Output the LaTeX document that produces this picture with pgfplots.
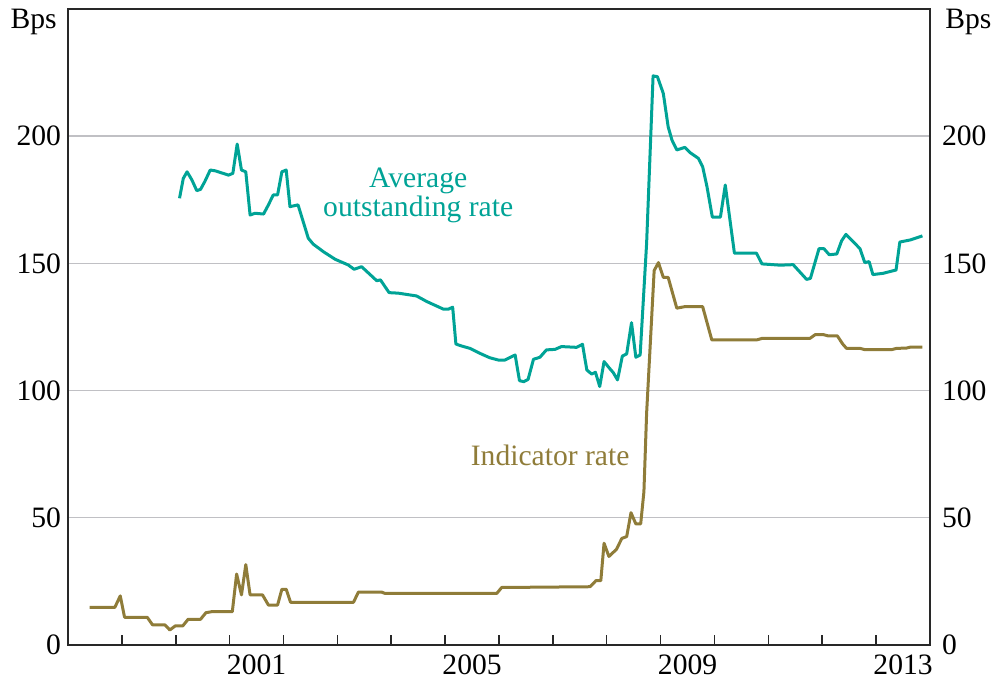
\documentclass[border=0pt]{standalone}
\usepackage{fontspec}
\setmainfont{Liberation Serif}
\usepackage{pgfplots}
\pgfplotsset{compat=1.18}
\definecolor{tealc}{RGB}{0,163,150}
\definecolor{goldc}{RGB}{143,124,57}
\definecolor{gridgray}{RGB}{192,192,196}
\definecolor{axdark}{RGB}{40,40,40}
\newcommand{\fs}{\fontsize{14.8}{14.5}\selectfont}
\begin{document}
\begin{tikzpicture}
\begin{axis}[
 at={(0,0)}, anchor=south west,
 width=431pt, height=318pt, scale only axis,
 xmin=1998, xmax=2014, ymin=0, ymax=250,
 axis line style={axdark, line width=0.9pt},
 xtick={1999,...,2013}, xticklabels={},
 xtick pos=bottom, tick align=inside,
 major tick length=5pt,
 x tick style={axdark, line width=0.8pt},
 extra x ticks={2001.5,2005.5,2009.5,2013.5},
 extra x tick labels={2001,2005,2009,2013},
 extra x tick style={major tick length=0pt, tick label style={yshift=-1.5pt}},
 ytick={0,50,...,200},
 ytick pos=left, y tick style={draw=none},
 ymajorgrids, grid style={gridgray, line width=0.7pt},
 tick label style={font=\fs},
 /pgf/number format/assume math mode=true,
 clip=false,
]
\addplot[tealc, line width=1.5pt, line join=round] coordinates {
(2000.07,175.6) (2000.14,183.4) (2000.21,186.0) (2000.30,182.8) (2000.39,178.6)
(2000.46,179.1) (2000.54,182.2) (2000.64,186.7) (2000.73,186.4) (2000.98,184.7)
(2001.06,185.4) (2001.14,196.9) (2001.22,186.7) (2001.30,186.0) (2001.38,169.0)
(2001.47,169.7) (2001.63,169.4) (2001.72,173.0) (2001.81,176.9) (2001.89,176.9)
(2001.97,186.0) (2002.05,186.7) (2002.12,172.3) (2002.27,173.0) (2002.46,159.9)
(2002.55,157.6) (2002.74,154.6) (2002.96,151.6) (2003.20,149.4) (2003.31,147.7)
(2003.45,148.7) (2003.73,143.2) (2003.80,143.5) (2003.96,138.5) (2004.13,138.3)
(2004.47,137.2) (2004.66,135.0) (2004.97,132.0) (2005.06,132.0) (2005.14,132.8)
(2005.20,118.3) (2005.31,117.5) (2005.46,116.6) (2005.65,114.6) (2005.83,112.9)
(2005.99,112.0) (2006.11,112.0) (2006.30,114.0) (2006.38,103.9) (2006.46,103.5)
(2006.54,104.4) (2006.64,112.3) (2006.76,113.1) (2006.88,116.0) (2007.04,116.2)
(2007.16,117.3) (2007.44,117.0) (2007.55,118.2) (2007.63,108.1) (2007.72,106.5)
(2007.79,107.2) (2007.87,101.6) (2007.95,111.4) (2008.05,108.8) (2008.12,107.1)
(2008.20,104.2) (2008.29,113.6) (2008.37,114.4) (2008.46,126.7) (2008.54,113.1)
(2008.62,114.0) (2008.74,157.9) (2008.86,223.7) (2008.94,223.4) (2009.05,216.8)
(2009.14,203.7) (2009.21,198.5) (2009.30,194.6) (2009.45,195.6) (2009.55,193.5)
(2009.70,191.3) (2009.78,188.0) (2009.86,180.2) (2009.96,168.2) (2010.11,168.2)
(2010.20,180.8) (2010.37,154.0) (2010.78,154.0) (2010.88,149.8) (2011.22,149.3)
(2011.46,149.5) (2011.71,143.7) (2011.78,144.1) (2011.94,155.8) (2012.03,155.8)
(2012.13,153.4) (2012.27,153.7) (2012.36,158.9) (2012.44,161.4) (2012.70,155.8)
(2012.79,150.3) (2012.87,150.7) (2012.94,145.6) (2013.13,146.1) (2013.37,147.4)
(2013.44,158.4) (2013.63,159.2) (2013.86,160.8)
};
\addplot[goldc, line width=1.5pt, line join=round] coordinates {
(1998.40,14.8) (1998.87,14.8) (1998.97,19.3) (1999.05,10.9) (1999.47,10.9)
(1999.57,7.9) (1999.80,7.9) (1999.89,5.9) (1999.99,7.5) (2000.13,7.5)
(2000.23,10.1) (2000.46,10.1) (2000.56,12.7) (2000.67,13.1) (2001.05,13.1)
(2001.13,27.9) (2001.22,19.7) (2001.30,31.6) (2001.38,19.7) (2001.61,19.7)
(2001.72,15.7) (2001.89,15.7) (2001.97,21.9) (2002.05,21.9) (2002.13,16.8)
(2003.30,16.8) (2003.39,20.8) (2003.82,20.8) (2003.88,20.3) (2005.96,20.3)
(2006.05,22.6) (2007.69,22.9) (2007.80,25.3) (2007.89,25.3) (2007.95,40.0)
(2008.04,34.8) (2008.18,37.6) (2008.28,41.9) (2008.37,42.6) (2008.45,52.0)
(2008.54,47.6) (2008.63,47.6) (2008.69,60.3) (2008.74,91.1) (2008.88,147.2)
(2008.96,150.3) (2009.05,144.5) (2009.14,144.5) (2009.30,132.4) (2009.45,133.0)
(2009.78,133.0) (2009.95,119.9) (2010.78,119.9) (2010.88,120.5) (2011.77,120.5)
(2011.87,122.0) (2012.02,122.0) (2012.11,121.5) (2012.28,121.5) (2012.38,118.3)
(2012.45,116.6) (2012.70,116.6) (2012.79,116.1) (2013.29,116.1) (2013.38,116.6)
(2013.56,116.7) (2013.64,117.1) (2013.86,117.1)
};
\node[tealc, font=\fs, align=center] at (axis cs:2004.5,176.7) {Average\\outstanding rate};
\node[goldc, font=\fs] at (axis cs:2006.95,74.7) {Indicator rate};
\node[anchor=east, inner sep=0pt, font=\fs] at ([xshift=-5.5pt,yshift=-6.5pt]rel axis cs:0,1) {Bps};
\node[anchor=west, inner sep=0pt, font=\fs] at ([xshift=7.5pt,yshift=-6.5pt]rel axis cs:1,1) {Bps};
\end{axis}
\begin{axis}[
 at={(0,0)}, anchor=south west,
 width=431pt, height=318pt, scale only axis,
 xmin=1998, xmax=2014, ymin=0, ymax=250,
 hide x axis, axis y line*=right,
 axis line style={draw=none},
 ytick={0,50,...,200}, y tick style={draw=none},
 tick label style={font=\fs},
 yticklabel style={xshift=2.5pt},
 /pgf/number format/assume math mode=true,
]
\end{axis}
\pgfresetboundingbox
\useasboundingbox (-34pt,-21.5pt) rectangle (461.5pt,322.5pt);
\end{tikzpicture}
\end{document}
